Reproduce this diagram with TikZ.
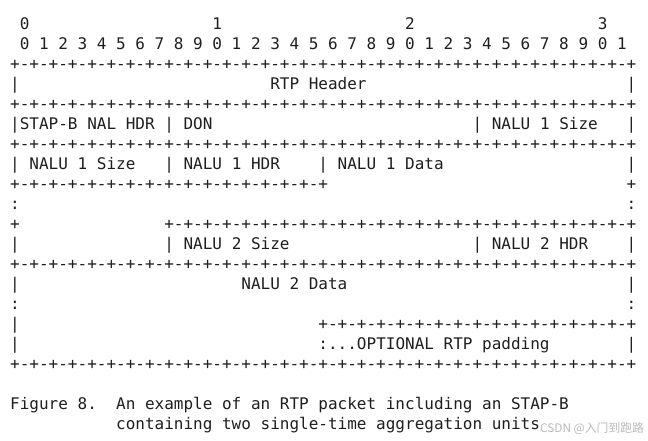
\documentclass[tikz,border=0pt]{standalone}
\usepackage{fontspec}
\newfontfamily\monofam{DejaVu Sans Mono}
\newfontfamily\cjkfam{Noto Sans CJK SC}
\definecolor{ink}{RGB}{30,30,30}
\definecolor{wmark}{RGB}{185,185,185}
\newcommand\bdeight{+-+-+-+-+-+-+-+-}
\newcommand\fullb{\bdeight\bdeight\bdeight\bdeight+}
\newcommand\halfb{\bdeight\bdeight+}
\newcommand\longb{\bdeight\bdeight\bdeight+}
\newcommand\ta[3]{\node[txt] (t#1x#2) at ({10.2pt+#2*9.633pt},{411.5pt-#1*20pt}) {#3};}
\frenchspacing
\begin{document}
\begin{tikzpicture}[
  txt/.style={anchor=base west, inner sep=0pt, outer sep=0pt, text=ink,
    font=\monofam\fontsize{16pt}{20pt}\selectfont},
  wm/.style={anchor=base west, inner sep=0pt, text=wmark,
    font=\cjkfam\fontsize{11.8pt}{13pt}\selectfont}
]
\useasboundingbox (0,0) rectangle (648pt,441pt);
% row 0: byte numbers
\ta{0}{1}{0}
\ta{0}{21}{1}
\ta{0}{41}{2}
\ta{0}{61}{3}
% row 1: bit numbers
\ta{1}{1}{0 1 2 3 4 5 6 7 8 9 0 1 2 3 4 5 6 7 8 9 0 1 2 3 4 5 6 7 8 9 0 1}
% row 2
\ta{2}{0}{\fullb}
% row 3
\ta{3}{0}{|}
\ta{3}{27}{RTP Header}
\ta{3}{64}{|}
% row 4
\ta{4}{0}{\fullb}
% row 5
\ta{5}{0}{|STAP-B NAL HDR | DON}
\ta{5}{48}{| NALU 1 Size}
\ta{5}{64}{|}
% row 6
\ta{6}{0}{\fullb}
% row 7
\ta{7}{0}{| NALU 1 Size}
\ta{7}{16}{| NALU 1 HDR}
\ta{7}{32}{| NALU 1 Data}
\ta{7}{64}{|}
% row 8
\ta{8}{0}{\halfb}
\ta{8}{64}{+}
% row 9
\ta{9}{0}{:}
\ta{9}{64}{:}
% row 10
\ta{10}{0}{+}
\ta{10}{16}{\longb}
% row 11
\ta{11}{0}{|}
\ta{11}{16}{| NALU 2 Size}
\ta{11}{48}{| NALU 2 HDR}
\ta{11}{64}{|}
% row 12
\ta{12}{0}{\fullb}
% row 13
\ta{13}{0}{|}
\ta{13}{24}{NALU 2 Data}
\ta{13}{64}{|}
% row 14
\ta{14}{0}{:}
\ta{14}{64}{:}
% row 15
\ta{15}{0}{|}
\ta{15}{32}{\halfb}
% row 16
\ta{16}{0}{|}
\ta{16}{32}{:...OPTIONAL RTP padding}
\ta{16}{64}{|}
% row 17
\ta{17}{0}{\fullb}
% caption
\ta{19}{0}{Figure 8.}
\ta{19}{11}{An example of an RTP packet including an STAP-B}
\ta{20}{11}{containing two single-time aggregation units}
% watermark
\node[wm] (wmk) at (540pt,8.5pt) {CSDN @入门到跑路};
\end{tikzpicture}
\end{document}
